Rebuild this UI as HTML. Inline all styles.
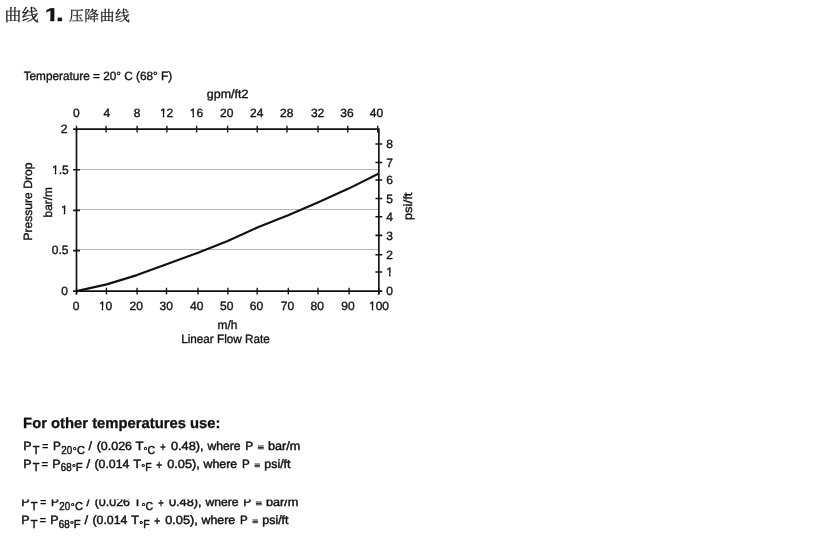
<!DOCTYPE html>
<html lang="zh-CN">
<head>
<meta charset="utf-8">
<title>曲线 1. 压降曲线</title>
<style>
html,body{margin:0;padding:0;background:#fff;}
body{width:834px;height:545px;position:relative;overflow:hidden;}
</style>
</head>
<body>
<svg width="834" height="545" viewBox="0 0 834 545" style="position:absolute;left:0;top:0" text-rendering="geometricPrecision">
<g font-family="'Liberation Sans', sans-serif" font-size="12" fill="#121010" stroke="#121010" stroke-width="0.35">
<g stroke="#b8b6b4" stroke-width="1">
<line x1="76.5" y1="249.5" x2="378.85" y2="249.5"/>
<line x1="76.5" y1="209.5" x2="378.85" y2="209.5"/>
<line x1="76.5" y1="169.5" x2="378.85" y2="169.5"/>
</g>
<g stroke="#121010" fill="none">
<path d="M76.5 294.50 V129.1 H378.85 V294.50" stroke-width="1.65"/>
<line x1="73.10" y1="291.1" x2="382.25" y2="291.1" stroke-width="1.65"/>
<path d="M76.50 125.70 V132.50 M106.10 125.70 V132.50 M137.10 125.70 V132.50 M166.90 125.70 V132.50 M196.60 125.70 V132.50 M227.60 125.70 V132.50 M257.20 125.70 V132.50 M287.00 125.70 V132.50 M318.00 125.70 V132.50 M347.80 125.70 V132.50 M377.70 125.70 V132.50 M76.50 287.70 V294.50 M106.45 287.70 V294.50 M137.10 287.70 V294.50 M166.50 287.70 V294.50 M198.00 287.70 V294.50 M227.90 287.70 V294.50 M257.20 287.70 V294.50 M288.30 287.70 V294.50 M318.00 287.70 V294.50 M349.10 287.70 V294.50 M378.85 287.70 V294.50" stroke-width="1.35"/>
<path d="M73.10 250.60 H79.90 M73.10 210.40 H79.90 M73.10 169.70 H79.90 M375.45 272.05 H382.25 M375.45 254.70 H382.25 M375.45 235.40 H382.25 M375.45 216.80 H382.25 M375.45 198.50 H382.25 M375.45 180.00 H382.25 M375.45 162.50 H382.25 M375.45 144.00 H382.25" stroke-width="1.6"/>
<path d="M73.10 129.1 H76.5" stroke-width="1.65"/>
<polyline points="76.5,291.1 106.73,284.4 136.97,275.1 167.2,264.1 197.44,252.9 227.68,241.1 257.91,227.2 288.14,215.3 318.38,202.3 348.62,188.6 378.85,173.5" stroke-width="2.15" stroke-linejoin="round"/>
</g>
<text transform="translate(76.45,117.10) scale(1.001,1)" text-anchor="middle">0</text>
<text transform="translate(106.75,117.10) scale(1.001,1)" text-anchor="middle">4</text>
<text transform="translate(137.15,117.10) scale(1.001,1)" text-anchor="middle">8</text>
<clipPath id="k1"><path clip-rule="evenodd" d="M-40,-20H40V6H-40ZM-6.76,-3.00H-3.86V4H-6.76ZM-2.40,-3.00H0.41V4H-2.40Z"/></clipPath>
<text transform="translate(166.60,117.10) scale(1.001,1)" text-anchor="middle" clip-path="url(#k1)">12</text>
<clipPath id="k2"><path clip-rule="evenodd" d="M-40,-20H40V6H-40ZM-6.76,-3.00H-3.86V4H-6.76ZM-2.40,-3.00H0.41V4H-2.40Z"/></clipPath>
<text transform="translate(196.40,117.10) scale(1.001,1)" text-anchor="middle" clip-path="url(#k2)">16</text>
<text transform="translate(226.80,117.10) scale(1.001,1)" text-anchor="middle">20</text>
<text transform="translate(256.75,117.10) scale(1.001,1)" text-anchor="middle">24</text>
<text transform="translate(286.70,117.10) scale(1.001,1)" text-anchor="middle">28</text>
<text transform="translate(317.60,117.10) scale(1.001,1)" text-anchor="middle">32</text>
<text transform="translate(346.95,117.10) scale(1.001,1)" text-anchor="middle">36</text>
<text transform="translate(376.55,117.10) scale(1.001,1)" text-anchor="middle">40</text>
<text transform="translate(76.15,309.50) scale(1.001,1)" text-anchor="middle">0</text>
<clipPath id="k3"><path clip-rule="evenodd" d="M-40,-20H40V6H-40ZM-6.76,-3.00H-3.86V4H-6.76ZM-2.40,-3.00H0.41V4H-2.40Z"/></clipPath>
<text transform="translate(105.60,309.50) scale(1.001,1)" text-anchor="middle" clip-path="url(#k3)">10</text>
<text transform="translate(136.20,309.50) scale(1.001,1)" text-anchor="middle">20</text>
<text transform="translate(166.30,309.50) scale(1.001,1)" text-anchor="middle">30</text>
<text transform="translate(196.70,309.50) scale(1.001,1)" text-anchor="middle">40</text>
<text transform="translate(226.70,309.50) scale(1.001,1)" text-anchor="middle">50</text>
<text transform="translate(256.45,309.50) scale(1.001,1)" text-anchor="middle">60</text>
<text transform="translate(287.45,309.50) scale(1.001,1)" text-anchor="middle">70</text>
<text transform="translate(317.30,309.50) scale(1.001,1)" text-anchor="middle">80</text>
<text transform="translate(348.05,309.50) scale(1.001,1)" text-anchor="middle">90</text>
<clipPath id="k4"><path clip-rule="evenodd" d="M-40,-20H40V6H-40ZM-10.10,-3.00H-7.19V4H-10.10ZM-5.73,-3.00H-2.92V4H-5.73Z"/></clipPath>
<text transform="translate(379.00,309.50) scale(1.001,1)" text-anchor="middle" clip-path="url(#k4)">100</text>
<text transform="translate(68.05,295.05) scale(1.001,1)" text-anchor="end">0</text>
<text transform="translate(68.40,254.00) scale(1.001,1)" text-anchor="end">0.5</text>
<clipPath id="k5"><path clip-rule="evenodd" d="M-40,-20H40V6H-40ZM-6.76,-3.00H-3.86V4H-6.76ZM-2.40,-3.00H0.41V4H-2.40Z"/></clipPath>
<text transform="translate(67.60,214.15) scale(1.001,1)" text-anchor="end" clip-path="url(#k5)">1</text>
<clipPath id="k6"><path clip-rule="evenodd" d="M-40,-20H40V6H-40ZM-16.77,-3.00H-13.86V4H-16.77ZM-12.40,-3.00H-9.59V4H-12.40Z"/></clipPath>
<text transform="translate(68.70,173.60) scale(1.001,1)" text-anchor="end" clip-path="url(#k6)">1.5</text>
<text transform="translate(67.40,132.80) scale(1.001,1)" text-anchor="end">2</text>
<text transform="translate(386.20,295.10) scale(1.001,1)" text-anchor="start">0</text>
<clipPath id="k7"><path clip-rule="evenodd" d="M-40,-20H40V6H-40ZM-0.09,-3.00H2.82V4H-0.09ZM4.28,-3.00H7.09V4H4.28Z"/></clipPath>
<text transform="translate(386.20,276.25) scale(1.001,1)" text-anchor="start" clip-path="url(#k7)">1</text>
<text transform="translate(386.20,258.90) scale(1.001,1)" text-anchor="start">2</text>
<text transform="translate(386.20,239.60) scale(1.001,1)" text-anchor="start">3</text>
<text transform="translate(386.20,221.00) scale(1.001,1)" text-anchor="start">4</text>
<text transform="translate(386.20,202.70) scale(1.001,1)" text-anchor="start">5</text>
<text transform="translate(386.20,184.20) scale(1.001,1)" text-anchor="start">6</text>
<text transform="translate(386.20,166.70) scale(1.001,1)" text-anchor="start">7</text>
<text transform="translate(386.20,148.20) scale(1.001,1)" text-anchor="start">8</text>
<text transform="translate(23.69,80.00) scale(0.9806,1)">Temperature = 20° C (68° F)</text>
<text transform="translate(206.83,97.60) scale(1.0382,1)">gpm/ft2</text>
<text transform="translate(217.46,329.20) scale(0.9931,1)">m/h</text>
<text transform="translate(181.19,342.50) scale(0.9766,1)">Linear Flow Rate</text>
<text transform="translate(32.40,240.54) rotate(-90) scale(1.0069,1.0)">Pressure Drop</text>
<text transform="translate(51.90,217.41) rotate(-90) scale(0.9859,1.0)">bar/m</text>
<text transform="translate(412.40,220.35) rotate(-90) scale(1.0968,1.0)">psi/ft</text>
</g>
<g font-family="'Liberation Sans', sans-serif" fill="#121010" stroke="#121010" stroke-width="0.35">
<text x="23.1" y="428.2" font-size="14.8" font-weight="bold" stroke-width="0.3">For other temperatures use:</text>
<g font-size="12" stroke-width="0.45">
<text><tspan x="23.35" y="450.00" font-size="12.00" textLength="8.15" lengthAdjust="spacingAndGlyphs">P</tspan> <tspan x="32.80" y="453.55" font-size="11.50" textLength="6.70" lengthAdjust="spacingAndGlyphs">T</tspan> <tspan x="42.15" y="450.00" font-size="12.00" textLength="6.01" lengthAdjust="spacingAndGlyphs">=</tspan> <tspan x="53.01" y="450.00" font-size="12.00" textLength="7.64" lengthAdjust="spacingAndGlyphs">P</tspan> <tspan x="61.36" y="453.55" font-size="11.50" textLength="10.93" lengthAdjust="spacingAndGlyphs">20</tspan> <tspan x="72.84" y="453.65" font-size="9.80" textLength="3.92" lengthAdjust="spacingAndGlyphs">°</tspan> <tspan x="77.09" y="453.55" font-size="11.50" textLength="7.98" lengthAdjust="spacingAndGlyphs">C</tspan> <tspan x="88.55" y="450.00" font-size="12.00" textLength="3.50" lengthAdjust="spacingAndGlyphs">/</tspan> <tspan x="96.68" y="450.00" font-size="12.00" textLength="35.32" lengthAdjust="spacingAndGlyphs">(0.026</tspan> <tspan x="135.46" y="450.00" font-size="12.00" textLength="7.78" lengthAdjust="spacingAndGlyphs">T</tspan> <tspan x="143.59" y="453.65" font-size="9.80" textLength="3.92" lengthAdjust="spacingAndGlyphs">°</tspan> <tspan x="147.41" y="453.55" font-size="11.50" textLength="7.64" lengthAdjust="spacingAndGlyphs">C</tspan> <tspan x="160.30" y="450.90" font-size="12.00" textLength="5.41" lengthAdjust="spacingAndGlyphs">+</tspan> <tspan x="170.95" y="450.00" font-size="12.00" textLength="32.68" lengthAdjust="spacingAndGlyphs">0.48),</tspan> <tspan x="207.47" y="450.00" font-size="12.00" textLength="33.02" lengthAdjust="spacingAndGlyphs">where</tspan> <tspan x="245.29" y="450.00" font-size="12.00" textLength="7.77" lengthAdjust="spacingAndGlyphs">P</tspan> <tspan x="257.40" y="450.00" font-size="8.07" textLength="6.61" lengthAdjust="spacingAndGlyphs" stroke-width="0.22">≡</tspan> <tspan x="267.93" y="450.00" font-size="12.00" textLength="32.35" lengthAdjust="spacingAndGlyphs">bar/m</tspan></text>
<text><tspan x="23.35" y="467.60" font-size="12.00" textLength="8.15" lengthAdjust="spacingAndGlyphs">P</tspan> <tspan x="32.80" y="471.15" font-size="11.50" textLength="6.70" lengthAdjust="spacingAndGlyphs">T</tspan> <tspan x="41.60" y="467.60" font-size="12.00" textLength="6.61" lengthAdjust="spacingAndGlyphs">=</tspan> <tspan x="52.15" y="467.60" font-size="12.00" textLength="8.15" lengthAdjust="spacingAndGlyphs">P</tspan> <tspan x="60.86" y="471.15" font-size="11.50" textLength="10.82" lengthAdjust="spacingAndGlyphs">68</tspan> <tspan x="72.04" y="471.25" font-size="9.80" textLength="3.92" lengthAdjust="spacingAndGlyphs">°</tspan> <tspan x="75.83" y="471.15" font-size="11.50" textLength="6.87" lengthAdjust="spacingAndGlyphs">F</tspan> <tspan x="86.55" y="467.60" font-size="12.00" textLength="3.65" lengthAdjust="spacingAndGlyphs">/</tspan> <tspan x="94.49" y="467.60" font-size="12.00" textLength="34.92" lengthAdjust="spacingAndGlyphs">(0.014</tspan> <tspan x="133.27" y="467.60" font-size="12.00" textLength="7.56" lengthAdjust="spacingAndGlyphs">T</tspan> <tspan x="141.24" y="471.25" font-size="9.80" textLength="3.92" lengthAdjust="spacingAndGlyphs">°</tspan> <tspan x="145.19" y="471.15" font-size="11.50" textLength="6.37" lengthAdjust="spacingAndGlyphs">F</tspan> <tspan x="156.26" y="468.50" font-size="12.00" textLength="5.89" lengthAdjust="spacingAndGlyphs">+</tspan> <tspan x="167.15" y="467.60" font-size="12.00" textLength="32.68" lengthAdjust="spacingAndGlyphs">0.05),</tspan> <tspan x="203.57" y="467.60" font-size="12.00" textLength="33.63" lengthAdjust="spacingAndGlyphs">where</tspan> <tspan x="241.93" y="467.60" font-size="12.00" textLength="7.52" lengthAdjust="spacingAndGlyphs">P</tspan> <tspan x="254.15" y="467.60" font-size="8.07" textLength="6.01" lengthAdjust="spacingAndGlyphs" stroke-width="0.22">≡</tspan> <tspan x="264.35" y="467.60" font-size="12.00" textLength="26.09" lengthAdjust="spacingAndGlyphs">psi/ft</tspan></text>
</g>
<clipPath id="c2"><rect x="0" y="499.5" width="834" height="46"/></clipPath>
<g font-size="12" clip-path="url(#c2)" stroke-width="0.45">
<text><tspan x="21.35" y="506.30" font-size="12.00" textLength="8.15" lengthAdjust="spacingAndGlyphs">P</tspan> <tspan x="30.80" y="509.85" font-size="11.50" textLength="6.70" lengthAdjust="spacingAndGlyphs">T</tspan> <tspan x="40.15" y="506.30" font-size="12.00" textLength="6.01" lengthAdjust="spacingAndGlyphs">=</tspan> <tspan x="51.01" y="506.30" font-size="12.00" textLength="7.64" lengthAdjust="spacingAndGlyphs">P</tspan> <tspan x="59.36" y="509.85" font-size="11.50" textLength="10.93" lengthAdjust="spacingAndGlyphs">20</tspan> <tspan x="70.84" y="509.95" font-size="9.80" textLength="3.92" lengthAdjust="spacingAndGlyphs">°</tspan> <tspan x="75.09" y="509.85" font-size="11.50" textLength="7.98" lengthAdjust="spacingAndGlyphs">C</tspan> <tspan x="86.55" y="506.30" font-size="12.00" textLength="3.50" lengthAdjust="spacingAndGlyphs">/</tspan> <tspan x="94.68" y="506.30" font-size="12.00" textLength="35.32" lengthAdjust="spacingAndGlyphs">(0.026</tspan> <tspan x="133.46" y="506.30" font-size="12.00" textLength="7.78" lengthAdjust="spacingAndGlyphs">T</tspan> <tspan x="141.59" y="509.95" font-size="9.80" textLength="3.92" lengthAdjust="spacingAndGlyphs">°</tspan> <tspan x="145.41" y="509.85" font-size="11.50" textLength="7.64" lengthAdjust="spacingAndGlyphs">C</tspan> <tspan x="158.30" y="507.20" font-size="12.00" textLength="5.41" lengthAdjust="spacingAndGlyphs">+</tspan> <tspan x="168.95" y="506.30" font-size="12.00" textLength="32.68" lengthAdjust="spacingAndGlyphs">0.48),</tspan> <tspan x="205.47" y="506.30" font-size="12.00" textLength="33.02" lengthAdjust="spacingAndGlyphs">where</tspan> <tspan x="243.29" y="506.30" font-size="12.00" textLength="7.77" lengthAdjust="spacingAndGlyphs">P</tspan> <tspan x="255.40" y="506.30" font-size="8.07" textLength="6.61" lengthAdjust="spacingAndGlyphs" stroke-width="0.22">≡</tspan> <tspan x="265.93" y="506.30" font-size="12.00" textLength="32.35" lengthAdjust="spacingAndGlyphs">bar/m</tspan></text>
<text><tspan x="21.35" y="524.40" font-size="12.00" textLength="8.15" lengthAdjust="spacingAndGlyphs">P</tspan> <tspan x="30.80" y="527.95" font-size="11.50" textLength="6.70" lengthAdjust="spacingAndGlyphs">T</tspan> <tspan x="39.60" y="524.40" font-size="12.00" textLength="6.61" lengthAdjust="spacingAndGlyphs">=</tspan> <tspan x="50.15" y="524.40" font-size="12.00" textLength="8.15" lengthAdjust="spacingAndGlyphs">P</tspan> <tspan x="58.86" y="527.95" font-size="11.50" textLength="10.82" lengthAdjust="spacingAndGlyphs">68</tspan> <tspan x="70.04" y="528.05" font-size="9.80" textLength="3.92" lengthAdjust="spacingAndGlyphs">°</tspan> <tspan x="73.83" y="527.95" font-size="11.50" textLength="6.87" lengthAdjust="spacingAndGlyphs">F</tspan> <tspan x="84.55" y="524.40" font-size="12.00" textLength="3.65" lengthAdjust="spacingAndGlyphs">/</tspan> <tspan x="92.49" y="524.40" font-size="12.00" textLength="34.92" lengthAdjust="spacingAndGlyphs">(0.014</tspan> <tspan x="131.27" y="524.40" font-size="12.00" textLength="7.56" lengthAdjust="spacingAndGlyphs">T</tspan> <tspan x="139.24" y="528.05" font-size="9.80" textLength="3.92" lengthAdjust="spacingAndGlyphs">°</tspan> <tspan x="143.19" y="527.95" font-size="11.50" textLength="6.37" lengthAdjust="spacingAndGlyphs">F</tspan> <tspan x="154.26" y="525.30" font-size="12.00" textLength="5.89" lengthAdjust="spacingAndGlyphs">+</tspan> <tspan x="165.15" y="524.40" font-size="12.00" textLength="32.68" lengthAdjust="spacingAndGlyphs">0.05),</tspan> <tspan x="201.57" y="524.40" font-size="12.00" textLength="33.63" lengthAdjust="spacingAndGlyphs">where</tspan> <tspan x="239.93" y="524.40" font-size="12.00" textLength="7.52" lengthAdjust="spacingAndGlyphs">P</tspan> <tspan x="252.15" y="524.40" font-size="8.07" textLength="6.01" lengthAdjust="spacingAndGlyphs" stroke-width="0.22">≡</tspan> <tspan x="262.35" y="524.40" font-size="12.00" textLength="26.09" lengthAdjust="spacingAndGlyphs">psi/ft</tspan></text>
</g>
</g>
<clipPath id="one"><path clip-rule="evenodd" d="M0,0H200V40H0Z M43.3,18.34H50.23V24H43.3Z M54.36,18.34H57.72V24H54.36Z"/></clipPath>
<text fill="#161616" stroke="#161616" stroke-width="0.2" clip-path="url(#one)"><tspan x="4.6" y="20.5" font-family="'Liberation Serif', 'Noto Serif CJK SC', serif" font-size="16.9" letter-spacing="0.2">曲线</tspan> <tspan x="44.7" y="20.5" font-family="'Liberation Sans', sans-serif" font-weight="bold" font-size="18.54" stroke-width="0.3" textLength="14.02" lengthAdjust="spacingAndGlyphs">1</tspan><tspan x="55.8" y="20.5" font-family="'Liberation Sans', sans-serif" font-weight="bold" font-size="21.63" stroke-width="0.3" textLength="8.17" lengthAdjust="spacingAndGlyphs">.</tspan> <tspan x="68.9" y="20.8" font-family="'Liberation Serif', 'Noto Serif CJK SC', serif" font-size="14.7" letter-spacing="0.7">压降曲线</tspan></text>
</svg>
</body>
</html>
